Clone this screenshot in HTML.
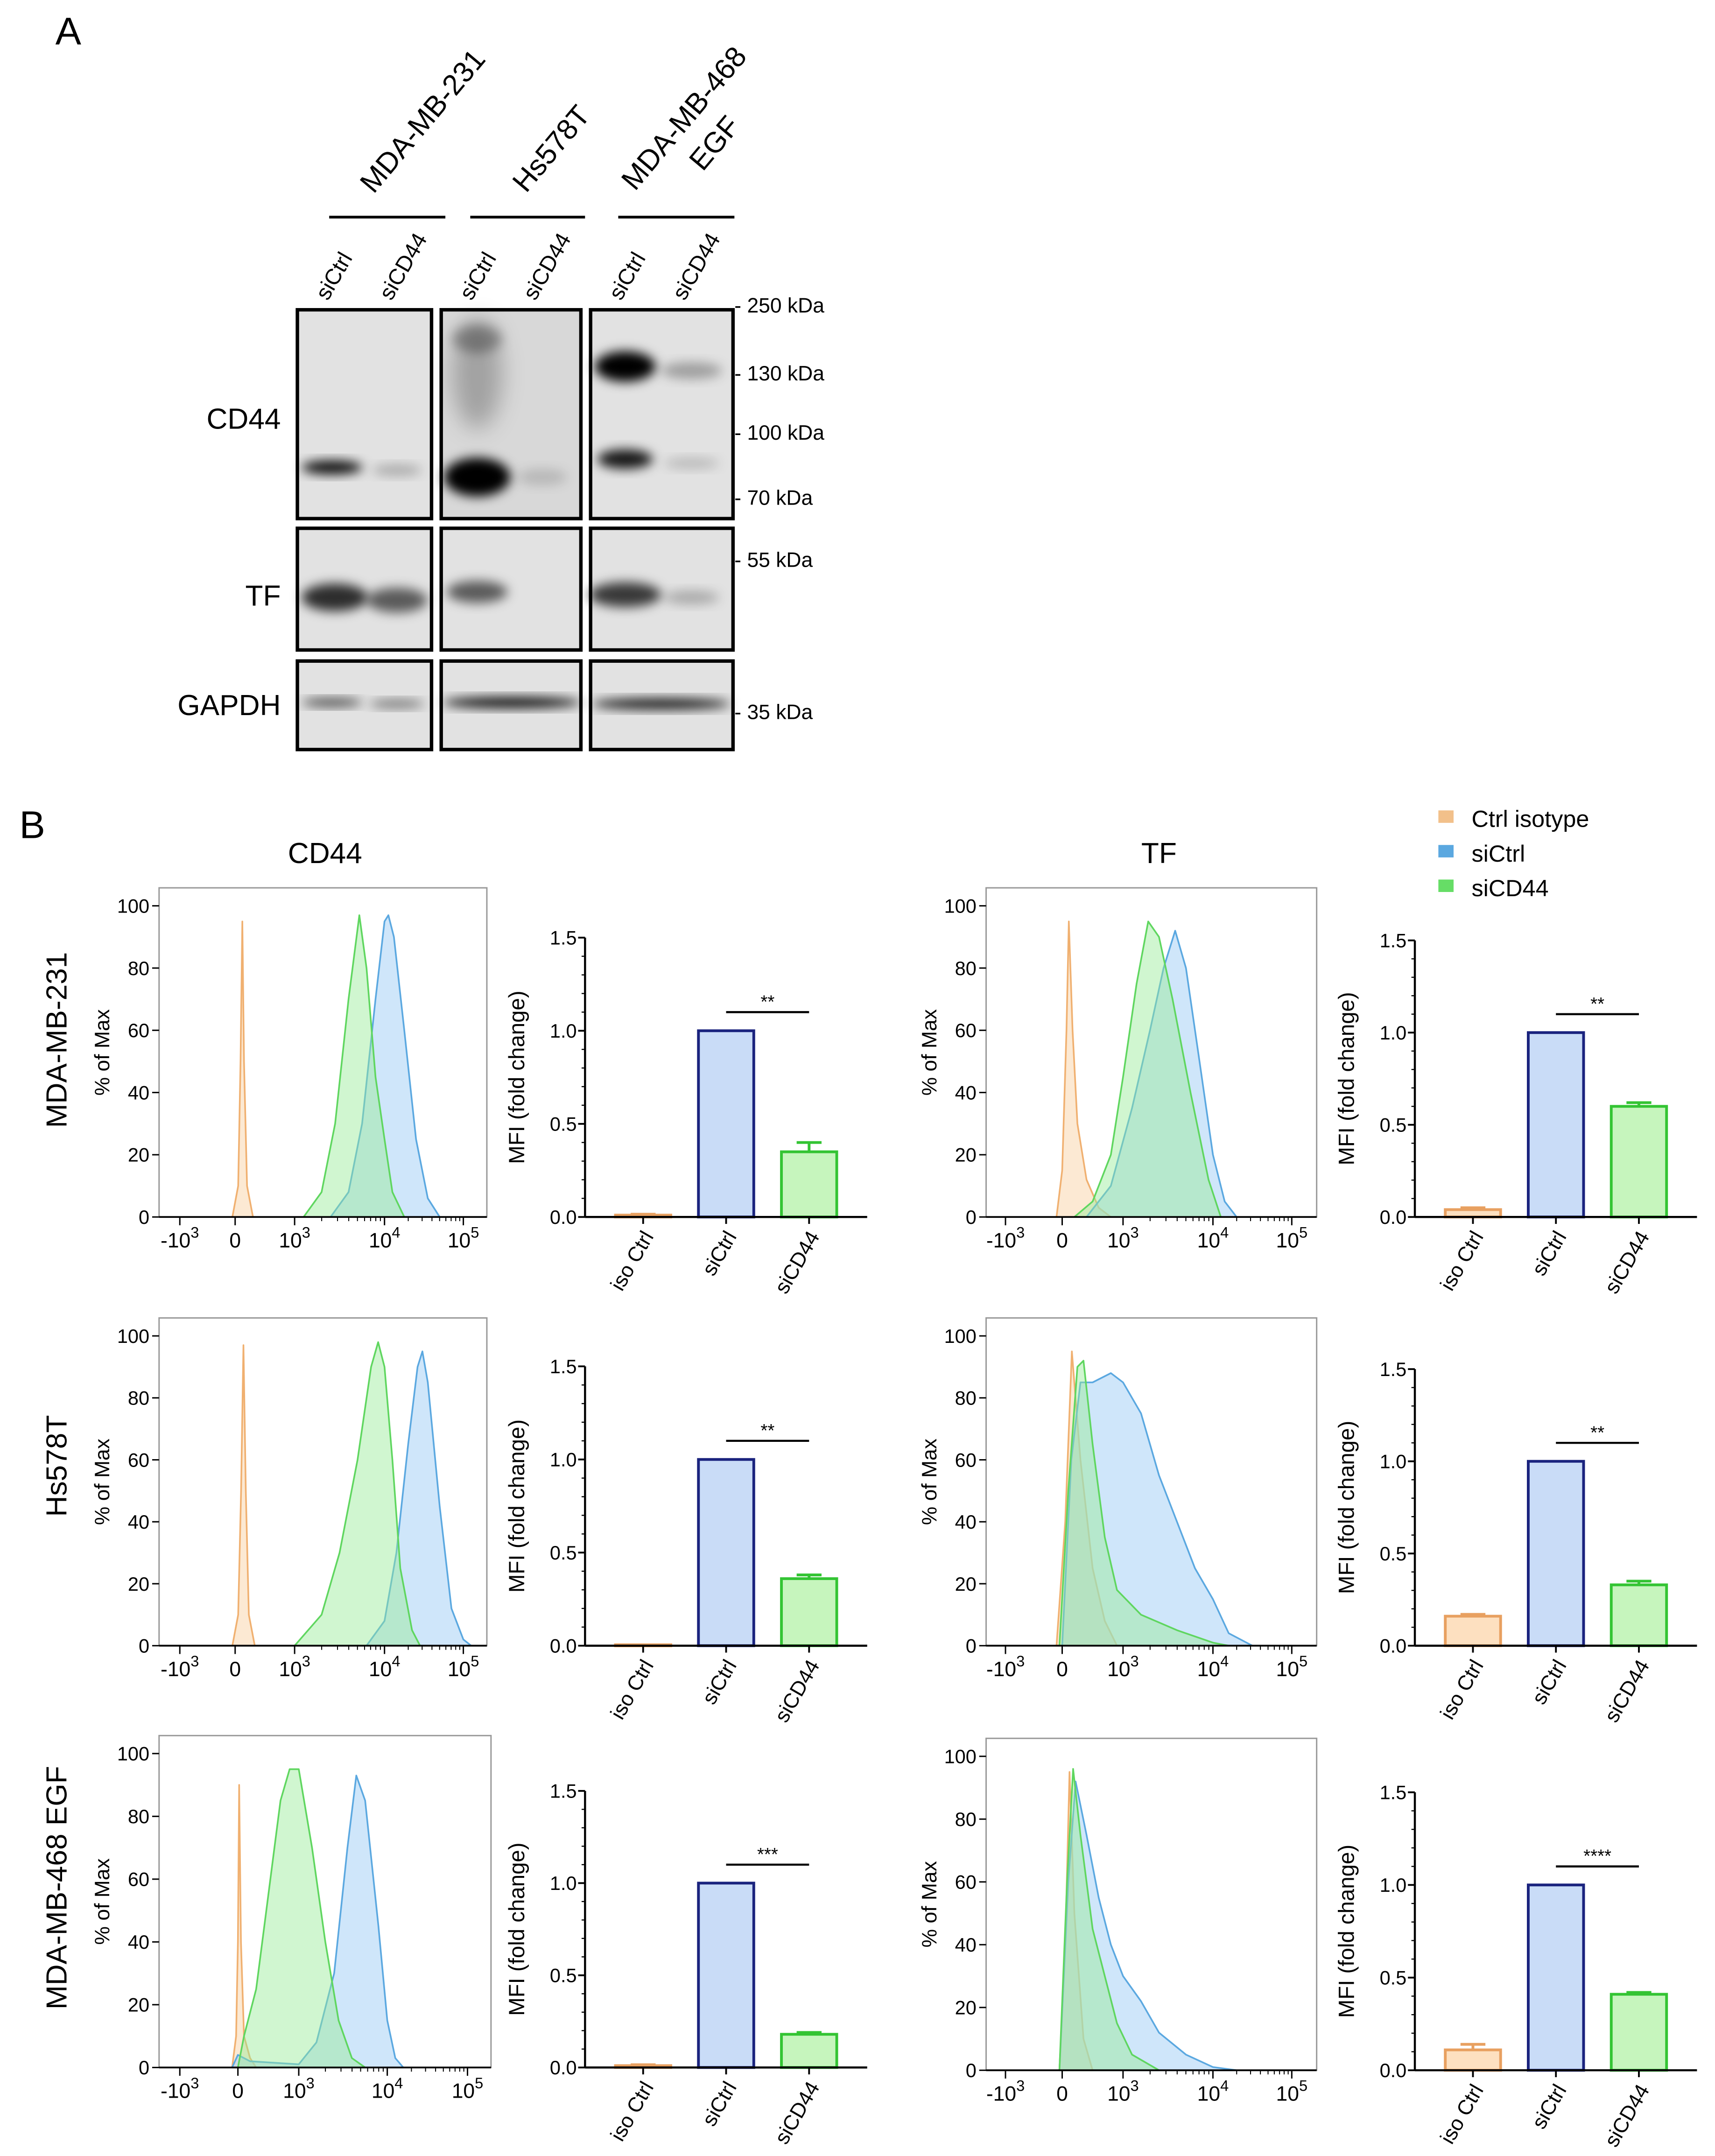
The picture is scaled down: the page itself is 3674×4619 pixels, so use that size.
<!DOCTYPE html>
<html><head><meta charset="utf-8"><style>
html,body{margin:0;padding:0;background:#fff}
svg{display:block;font-family:"Liberation Sans",Arial,sans-serif}
</style></head><body>
<svg id="fig" xmlns="http://www.w3.org/2000/svg" width="3674" height="4619" viewBox="0 0 1240 1559">
<defs>
<filter id="blur" x="-50%" y="-50%" width="200%" height="200%"><feGaussianBlur stdDeviation="4"/></filter>
<filter id="blur2" x="-50%" y="-50%" width="200%" height="200%"><feGaussianBlur stdDeviation="8"/></filter>
</defs>
<rect width="1240" height="1559" fill="#fff"/>
<text x="40" y="32" font-size="28">A</text>
<text x="14" y="606" font-size="28">B</text>
<g id="blot"></g>
<g id="flow"></g>
</svg>
<script>
// ---------- data ----------
const barCats = ["iso Ctrl","siCtrl","siCD44"];
const cd44Row1 = [0.01,1.0,0.35], cd44Row1Err=[0.005,0,0.05];
const cd44Row2 = [0.005,1.0,0.36], cd44Row2Err=[0,0,0.02];
const cd44Row3 = [0.01,1.0,0.18], cd44Row3Err=[0.005,0,0.01];
const tfRow1 = [0.04,1.0,0.60], tfRow1Err=[0.01,0,0.02];
const tfRow2 = [0.16,1.0,0.33], tfRow2Err=[0.01,0,0.02];
const tfRow3 = [0.11,1.0,0.41], tfRow3Err=[0.03,0,0.01];
const sigLabels = ["**","**","**","**","***","****"];
const barTicks = ["0.0","0.5","1.0","1.5"];
const histTicksY = ["0","20","40","60","80","100"];
const rowNames = ["MDA-MB-231","Hs578T","MDA-MB-468 EGF"];
// histogram curves: [axis decade position t, % of max]; t: -1=-10^3, 0=0, 1=10^3, 2=10^4, 3=10^5
const cd44R1Iso=[[-0.05,0],[0.05,10],[0.09,50],[0.12,95],[0.15,50],[0.2,10],[0.3,0]];
const cd44R1Ctl=[[1.4,0],[1.6,8],[1.75,30],[1.9,70],[2.0,95],[2.05,97],[2.12,90],[2.25,60],[2.4,25],[2.55,6],[2.7,0]];
const cd44R1Kd=[[1.1,0],[1.3,8],[1.45,30],[1.6,70],[1.72,97],[1.8,80],[1.9,45],[2.0,25],[2.1,8],[2.25,0]];
const tfR1Iso=[[-0.1,0],[0.0,15],[0.07,60],[0.11,95],[0.17,60],[0.25,30],[0.4,12],[0.6,3],[0.8,0]];
const tfR1Ctl=[[0.4,0],[0.8,10],[1.1,35],[1.3,60],[1.45,80],[1.58,92],[1.7,80],[1.85,50],[2.0,20],[2.15,5],[2.3,0]];
const tfR1Kd=[[0.2,0],[0.5,5],[0.8,20],[1.0,45],[1.15,75],[1.28,95],[1.4,90],[1.55,70],[1.75,40],[1.95,12],[2.1,0]];
const cd44R2Iso=[[-0.05,0],[0.05,10],[0.1,50],[0.14,97],[0.18,50],[0.23,10],[0.33,0]];
const cd44R2Ctl=[[1.8,0],[2.0,8],[2.15,30],[2.3,65],[2.42,90],[2.48,95],[2.55,85],[2.7,45],[2.85,12],[3.0,2],[3.1,0]];
const cd44R2Kd=[[1.0,0],[1.3,10],[1.5,30],[1.7,60],[1.85,90],[1.93,98],[2.0,90],[2.1,60],[2.2,25],[2.35,5],[2.45,0]];
const tfR2Iso=[[-0.1,0],[0.05,40],[0.16,95],[0.3,60],[0.5,25],[0.7,8],[0.9,0]];
const tfR2Ctl=[[0.0,0],[0.15,60],[0.3,85],[0.5,85],[0.8,88],[1.0,85],[1.2,75],[1.4,55],[1.6,40],[1.8,25],[2.0,15],[2.2,4],[2.5,0]];
const tfR2Kd=[[-0.05,0],[0.1,50],[0.25,90],[0.35,92],[0.5,65],[0.7,35],[0.9,18],[1.2,10],[1.6,5],[2.0,1],[2.2,0]];
const cd44R3Iso=[[-0.1,0],[-0.03,10],[0.0,40],[0.02,90],[0.05,40],[0.1,10],[0.2,3],[0.3,0]];
const cd44R3Ctl=[[-0.1,0],[0.0,4],[0.2,2],[1.0,1],[1.2,8],[1.4,30],[1.55,70],[1.65,93],[1.75,85],[1.9,45],[2.0,15],[2.1,3],[2.2,0]];
const cd44R3Kd=[[0.0,0],[0.1,10],[0.3,25],[0.5,55],[0.7,85],[0.85,95],[1.0,95],[1.15,70],[1.3,40],[1.45,15],[1.6,3],[1.75,0]];
const tfR3Iso=[[-0.05,0],[0.05,40],[0.12,95],[0.2,50],[0.35,10],[0.5,0]];
const tfR3Ctl=[[-0.05,0],[0.1,60],[0.22,92],[0.4,75],[0.6,55],[0.8,40],[1.0,30],[1.2,22],[1.4,12],[1.7,5],[2.0,1],[2.3,0]];
const tfR3Kd=[[-0.05,0],[0.08,60],[0.18,96],[0.3,75],[0.5,45],[0.7,30],[0.9,15],[1.1,5],[1.4,0]];

// ---------- helpers ----------
const NS="http://www.w3.org/2000/svg";
function mk(tag,attrs,parent,text){const e=document.createElementNS(NS,tag);for(const k in attrs)e.setAttribute(k,attrs[k]);if(text!==undefined)e.textContent=text;parent.appendChild(e);return e;}
const blot=document.getElementById('blot'), flow=document.getElementById('flow');

// ---------- Western blot ----------
const groups=[["MDA-MB-231",238,322,311,92],["Hs578T",340,423,404,112],["MDA-MB-468",447,531,500,90]];
groups.forEach((g,i)=>{
  let l=mk('line',{x1:g[1],y1:157,x2:g[2],y2:157,stroke:'#000','stroke-width':2},blot);
  
  
  let t=mk('text',{x:g[3],y:g[4],'font-size':21,'text-anchor':'middle',transform:`rotate(-50 ${g[3]} ${g[4]})`},blot,g[0]);
  
  
  if(i==2){let t2=mk('text',{x:522,y:108,'font-size':21,'text-anchor':'middle',transform:`rotate(-50 522 108)`},blot,"EGF");
  
  }
});
const laneX=[[215,312],[319,420],[427,530]];
laneX.forEach(b=>{
  [["siCtrl",b[0]+22],["siCD44",b[0]+68]].forEach(s=>{
    let t=mk('text',{x:s[1],y:218,'font-size':16,transform:`rotate(-60 ${s[1]} 218)`},blot,s[0]);
    
    
  });
});
const rowsB=[["CD44",224,375,203,310],["TF",382,470,203,438],["GAPDH",478,542,203,517]];
rowsB.forEach(r=>{
  let t=mk('text',{x:r[3],y:r[4],'font-size':21,'text-anchor':'end'},blot,r[0]);
  
  
});
function band(cx,cy,w,h,op,f){let e=mk('ellipse',{cx:cx,cy:cy,rx:w,ry:h,fill:'#000','fill-opacity':op,filter:`url(#${f||'blur'})`},blot);
  
  }
laneX.forEach((b,bi)=>{
  rowsB.forEach((r,ri)=>{
    let bg=mk('rect',{x:b[0],y:r[1],width:b[1]-b[0],height:r[2]-r[1],fill:bi==1&&ri==0?'#d8d8d8':'#e2e2e2'},blot);
    
    
  });
});
band(240,338,22,5,0.95);band(287,340,18,4,0.25);
band(345,345,24,14,1);band(345,270,18,40,0.25,'blur2');band(345,245,18,10,0.3);band(392,345,18,6,0.15);
band(452,265,22,11,1);band(452,332,20,7,0.9);band(500,268,22,6,0.3);band(500,335,20,4,0.18);
band(242,432,24,10,0.8);band(287,434,22,9,0.6);
band(345,428,22,8,0.6);
band(452,430,26,9,0.75);band(500,432,20,5,0.25);
band(240,508,22,3,0.7);band(287,509,20,3,0.5);
band(370,508,50,4,0.95);band(478,509,50,4,0.9);
laneX.forEach(b=>rowsB.forEach(r=>{
  let f=mk('rect',{x:b[0],y:r[1],width:b[1]-b[0],height:r[2]-r[1],fill:'none',stroke:'#000','stroke-width':2.5},blot);
  
  
}));
[["250 kDa",226],["130 kDa",275],["100 kDa",318],["70 kDa",365],["55 kDa",410],["35 kDa",520]].forEach(m=>{
  let t=mk('text',{x:531,y:m[1],'font-size':15},blot,"- "+m[0]);
  
  
});

// ---------- Section B headers ----------
[["CD44",235],["TF",838]].forEach(h=>{
  let t=mk('text',{x:h[1],y:624,'font-size':21,'text-anchor':'middle'},flow,h[0]);
  
  
});
const legCols=[["Ctrl isotype","#f2c08a"],["siCtrl","#5ba8e0"],["siCD44","#66dd66"]];
legCols.forEach((l,i)=>{
  let g=mk('g',{},flow);
  
  
  mk('rect',{x:1040,y:586+i*25,width:11,height:9,fill:l[1]},g);
  mk('text',{x:1064,y:598+i*25,'font-size':17},g,l[0]);
});
rowNames.forEach((n,i)=>{
  let cy=[752,1060,1365][i];
  let t=mk('text',{x:48,y:cy,'font-size':21,'text-anchor':'middle',transform:`rotate(-90 48 ${cy})`},flow,n);
  
  
});

// ---------- Histograms ----------
function hist(box,xt,curves){
  const g=mk('g',{},flow);
  
  
  const [x0,y0,x1,y1]=box, yTop=y0+13;
  const X=t=>{let i=Math.max(0,Math.min(3,Math.floor(t+1)));let f=t+1-i;return xt[i]+(xt[i+1]-xt[i])*f;};
  const Y=v=>y1-(y1-yTop)*v/100;
  const cols=[["#f0b070","rgba(250,215,175,0.55)","iso-curve"],["#5ba8e0","rgba(160,205,245,0.5)","sictrl-curve"],["#5fd65f","rgba(150,235,150,0.45)","sicd44-curve"]];
  curves.forEach((c,ci)=>{
    let d="M"+X(c[0][0])+","+y1+" "+c.map(p=>"L"+X(p[0]).toFixed(1)+","+Y(p[1]).toFixed(1)).join(" ")+" L"+X(c[c.length-1][0])+","+y1+"Z";
    let p=mk('path',{d:d,fill:cols[ci][1],stroke:cols[ci][0],'stroke-width':1.2,'stroke-linejoin':'round'},g);
    
    
  });
  mk('rect',{x:x0,y:y0,width:x1-x0,height:y1-y0,fill:'none',stroke:'#999','stroke-width':1},g);
  mk('line',{x1:x0,y1:y1,x2:x1,y2:y1,stroke:'#000','stroke-width':1.3},g);
  histTicksY.forEach((lab,i)=>{
    let v=+lab, y=Y(v);
    mk('line',{x1:x0-5,y1:y,x2:x0,y2:y,stroke:'#000','stroke-width':1},g);
    let t=mk('text',{x:x0-7,y:y+5,'font-size':14,'text-anchor':'end'},g,lab);
    
    
  });
  let yc=(y0+y1)/2;
  let yt=mk('text',{x:x0-36,y:yc,'font-size':15,'text-anchor':'middle',transform:`rotate(-90 ${x0-36} ${yc})`},g,"% of Max");
  
  
  const xl=[["-10","3"],["0",""],["10","3"],["10","4"],["10","5"]];
  xl.forEach((l,i)=>{
    let x=X(i-1);
    mk('line',{x1:x,y1:y1,x2:x,y2:y1+6,stroke:'#000','stroke-width':1},g);
    let t=mk('text',{x:x,y:y1+22,'font-size':15,'text-anchor':'middle'},g);
    
    
    mk('tspan',{},t,l[0]);if(l[1])mk('tspan',{dy:-7,'font-size':11},t,l[1]);
    if(i>=2&&i<4){for(let k=2;k<10;k++){let xm=X(i-1+Math.log10(k));mk('line',{x1:xm,y1:y1,x2:xm,y2:y1+3,stroke:'#000','stroke-width':0.7},g);}}
  });
}
const cdX=[130,170,213,278,335], tfX=[727,768,812,877,934];
hist([115,642,352,880],cdX,[cd44R1Iso,cd44R1Ctl,cd44R1Kd]);
hist([713,642,952,880],tfX,[tfR1Iso,tfR1Ctl,tfR1Kd]);
hist([115,953,352,1190],cdX,[cd44R2Iso,cd44R2Ctl,cd44R2Kd]);
hist([713,953,952,1190],tfX,[tfR2Iso,tfR2Ctl,tfR2Kd]);
hist([115,1255,355,1495],[130,172,216,280,338],[cd44R3Iso,cd44R3Ctl,cd44R3Kd]);
hist([713,1257,952,1497],tfX,[tfR3Iso,tfR3Ctl,tfR3Kd]);

// ---------- Bar charts ----------
function bars(ax,y0,yTop,vals,errs,sig){
  const g=mk('g',{},flow);
  
  
  const Y=v=>y0-(y0-yTop)*v/1.5;
  const cx=[ax+42,ax+102,ax+162];
  const st=[["#fde0c0","#e8a060"],["#c9dcf7","#1a237e"],["#c6f5bd","#33c433"]];
  vals.forEach((v,i)=>{
    let r=mk('rect',{x:cx[i]-20,y:Y(v),width:40,height:Math.max(0.8,y0-Y(v)),fill:st[i][0],stroke:st[i][1],'stroke-width':2},g);
    
    
    if(errs[i]>0){mk('line',{x1:cx[i],y1:Y(v),x2:cx[i],y2:Y(v+errs[i]),stroke:st[i][1],'stroke-width':2},g);
      mk('line',{x1:cx[i]-9,y1:Y(v+errs[i]),x2:cx[i]+9,y2:Y(v+errs[i]),stroke:st[i][1],'stroke-width':2},g);}
    mk('line',{x1:cx[i],y1:y0,x2:cx[i],y2:y0+5,stroke:'#000','stroke-width':1.3},g);
    let t=mk('text',{x:cx[i]+8,y:y0+14,'font-size':15,'text-anchor':'end',transform:`rotate(-60 ${cx[i]+8} ${y0+14})`},g,barCats[i]);
    
    
  });
  mk('line',{x1:ax,y1:y0,x2:ax+204,y2:y0,stroke:'#000','stroke-width':1.5},g);
  mk('line',{x1:ax,y1:y0,x2:ax,y2:yTop,stroke:'#000','stroke-width':1.5},g);
  barTicks.forEach(lab=>{
    let y=Y(+lab);
    mk('line',{x1:ax-5,y1:y,x2:ax,y2:y,stroke:'#000','stroke-width':1.3},g);
    let t=mk('text',{x:ax-6,y:y+5,'font-size':14,'text-anchor':'end'},g,lab);
    
    
  });
  for(let k=1;k<15;k++){if(k%5){let y=Y(k*0.1);mk('line',{x1:ax-2.5,y1:y,x2:ax,y2:y,stroke:'#000','stroke-width':0.8},g);}}
  let yc=(y0+yTop)/2;
  let yt=mk('text',{x:ax-44,y:yc,'font-size':16,'text-anchor':'middle',transform:`rotate(-90 ${ax-44} ${yc})`},g,"MFI (fold change)");
  
  
  let ys=Y(1.1);
  mk('line',{x1:cx[1],y1:ys,x2:cx[2],y2:ys,stroke:'#000','stroke-width':1.5},g);
  let s=mk('text',{x:(cx[1]+cx[2])/2,y:ys-3,'font-size':13,'text-anchor':'middle'},g,sig);
  
  
}
bars(423,880,678,cd44Row1,cd44Row1Err,sigLabels[0]);
bars(1023,880,680,tfRow1,tfRow1Err,sigLabels[1]);
bars(423,1190,988,cd44Row2,cd44Row2Err,sigLabels[2]);
bars(1023,1190,990,tfRow2,tfRow2Err,sigLabels[3]);
bars(423,1495,1295,cd44Row3,cd44Row3Err,sigLabels[4]);
bars(1023,1497,1296,tfRow3,tfRow3Err,sigLabels[5]);
</script>
</body></html>
